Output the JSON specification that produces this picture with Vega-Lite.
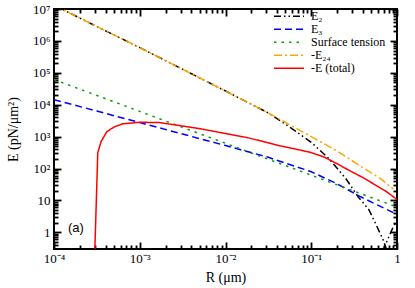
{
  "$schema": "https://vega.github.io/schema/vega-lite/v6.json",
  "width": 343,
  "height": 240,
  "autosize": {"type": "none"},
  "padding": {"left": 54, "top": 9, "right": 18, "bottom": 39},
  "background": "white",
  "config": {
    "view": {"stroke": "black", "strokeWidth": 2},
    "axis": {
      "grid": false,
      "domain": false,
      "tickColor": "black",
      "tickWidth": 1.8,
      "labelFont": "Liberation Serif",
      "labelFontSize": 13,
      "labelColor": "black",
      "titleFont": "Liberation Serif",
      "titleFontSize": 14,
      "titleFontWeight": "normal",
      "titleColor": "black",
      "labelOverlap": false,
      "labelFlush": false
    }
  },
  "data": {
    "values": [
      {"series": "E₂", "part": 1, "R": 0.0001, "E": 13200000},
      {"series": "E₂", "part": 1, "R": 0.000316, "E": 2820000},
      {"series": "E₂", "part": 1, "R": 0.001, "E": 617000},
      {"series": "E₂", "part": 1, "R": 0.00316, "E": 129000},
      {"series": "E₂", "part": 1, "R": 0.01, "E": 26900},
      {"series": "E₂", "part": 1, "R": 0.0316, "E": 5500},
      {"series": "E₂", "part": 1, "R": 0.0562, "E": 1995},
      {"series": "E₂", "part": 1, "R": 0.1, "E": 661},
      {"series": "E₂", "part": 1, "R": 0.158, "E": 214},
      {"series": "E₂", "part": 1, "R": 0.251, "E": 50},
      {"series": "E₂", "part": 1, "R": 0.355, "E": 12.6},
      {"series": "E₂", "part": 1, "R": 0.468, "E": 5.25},
      {"series": "E₂", "part": 1, "R": 0.575, "E": 1.66},
      {"series": "E₂", "part": 1, "R": 0.692, "E": 0.562},
      {"series": "E₂", "part": 1, "R": 0.794, "E": 0.2},
      {"series": "E₂", "part": 2, "R": 0.676, "E": 0.25},
      {"series": "E₂", "part": 2, "R": 0.9, "E": 1.45},
      {"series": "E₂", "part": 2, "R": 1, "E": 2.3},
      {"series": "E₃", "part": 1, "R": 0.0001, "E": 14450},
      {"series": "E₃", "part": 1, "R": 0.000316, "E": 6310},
      {"series": "E₃", "part": 1, "R": 0.001, "E": 2754},
      {"series": "E₃", "part": 1, "R": 0.00316, "E": 1202},
      {"series": "E₃", "part": 1, "R": 0.01, "E": 525},
      {"series": "E₃", "part": 1, "R": 0.0316, "E": 224},
      {"series": "E₃", "part": 1, "R": 0.1, "E": 79.4},
      {"series": "E₃", "part": 1, "R": 0.2, "E": 33.1},
      {"series": "E₃", "part": 1, "R": 0.355, "E": 14.1},
      {"series": "E₃", "part": 1, "R": 0.631, "E": 6.61},
      {"series": "E₃", "part": 1, "R": 1, "E": 3.63},
      {"series": "Surface tension", "part": 1, "R": 0.0001, "E": 61660},
      {"series": "Surface tension", "part": 1, "R": 0.000316, "E": 19500},
      {"series": "Surface tension", "part": 1, "R": 0.001, "E": 6166},
      {"series": "Surface tension", "part": 1, "R": 0.00316, "E": 1950},
      {"series": "Surface tension", "part": 1, "R": 0.01, "E": 617},
      {"series": "Surface tension", "part": 1, "R": 0.0316, "E": 195},
      {"series": "Surface tension", "part": 1, "R": 0.1, "E": 61.7},
      {"series": "Surface tension", "part": 1, "R": 0.316, "E": 19.5},
      {"series": "Surface tension", "part": 1, "R": 1, "E": 6.17},
      {"series": "-E₂₄", "part": 1, "R": 0.0001, "E": 13200000},
      {"series": "-E₂₄", "part": 1, "R": 0.000316, "E": 2820000},
      {"series": "-E₂₄", "part": 1, "R": 0.001, "E": 617000},
      {"series": "-E₂₄", "part": 1, "R": 0.00316, "E": 129000},
      {"series": "-E₂₄", "part": 1, "R": 0.01, "E": 26900},
      {"series": "-E₂₄", "part": 1, "R": 0.0316, "E": 5500},
      {"series": "-E₂₄", "part": 1, "R": 0.1, "E": 1000},
      {"series": "-E₂₄", "part": 1, "R": 0.2, "E": 355},
      {"series": "-E₂₄", "part": 1, "R": 0.398, "E": 107},
      {"series": "-E₂₄", "part": 1, "R": 0.631, "E": 50},
      {"series": "-E₂₄", "part": 1, "R": 0.912, "E": 22.4},
      {"series": "-E (total)", "part": 1, "R": 0.000299, "E": 0.25},
      {"series": "-E (total)", "part": 1, "R": 0.000324, "E": 316},
      {"series": "-E (total)", "part": 1, "R": 0.000355, "E": 708},
      {"series": "-E (total)", "part": 1, "R": 0.000412, "E": 1413},
      {"series": "-E (total)", "part": 1, "R": 0.000501, "E": 1995},
      {"series": "-E (total)", "part": 1, "R": 0.000631, "E": 2512},
      {"series": "-E (total)", "part": 1, "R": 0.001, "E": 2818},
      {"series": "-E (total)", "part": 1, "R": 0.0017, "E": 2754},
      {"series": "-E (total)", "part": 1, "R": 0.00501, "E": 1778},
      {"series": "-E (total)", "part": 1, "R": 0.0186, "E": 912},
      {"series": "-E (total)", "part": 1, "R": 0.0417, "E": 525},
      {"series": "-E (total)", "part": 1, "R": 0.0631, "E": 417},
      {"series": "-E (total)", "part": 1, "R": 0.1, "E": 316},
      {"series": "-E (total)", "part": 1, "R": 0.141, "E": 229},
      {"series": "-E (total)", "part": 1, "R": 0.2, "E": 141},
      {"series": "-E (total)", "part": 1, "R": 0.282, "E": 85},
      {"series": "-E (total)", "part": 1, "R": 0.398, "E": 52.5},
      {"series": "-E (total)", "part": 1, "R": 0.562, "E": 30.2},
      {"series": "-E (total)", "part": 1, "R": 0.759, "E": 18.6},
      {"series": "-E (total)", "part": 1, "R": 1, "E": 10.7}
    ]
  },
  "layer": [
    {
      "mark": {"type": "line", "clip": true},
      "encoding": {
        "x": {
          "field": "R", "type": "quantitative",
          "scale": {"type": "log", "domain": [0.0001, 1], "nice": false},
          "axis": {
            "orient": "bottom",
            "title": "R (μm)",
            "titlePadding": 2,
            "values": [0.0001,0.0002,0.0003,0.0004,0.0005,0.0006,0.0007,0.0008,0.0009,0.001,0.002,0.003,0.004,0.005,0.006,0.007,0.008,0.009,0.01,0.02,0.03,0.04,0.05,0.06,0.07,0.08,0.09,0.1,0.2,0.3,0.4,0.5,0.6,0.7,0.8,0.9,1],
            "labelExpr": "(abs(log(datum.value)/LN10 - round(log(datum.value)/LN10)) < 0.001) ? ['10⁻⁴','10⁻³','10⁻²','10⁻¹','1'][round(log(datum.value)/LN10)+4] : ''",
            "tickSize": {"condition": {"test": "abs(log(datum.value)/LN10 - round(log(datum.value)/LN10)) < 0.001", "value": -7}, "value": -4},
            "labelPadding": 10
          }
        },
        "y": {
          "field": "E", "type": "quantitative",
          "scale": {"type": "log", "domain": [0.3, 10000000], "nice": false},
          "axis": {
            "orient": "left",
            "title": "E (pN/μm²)",
            "titlePadding": 12,
            "values": [0.4,0.5,0.6,0.7,0.8,0.9,1,2,3,4,5,6,7,8,9,10,20,30,40,50,60,70,80,90,100,200,300,400,500,600,700,800,900,1000,2000,3000,4000,5000,6000,7000,8000,9000,10000,20000,30000,40000,50000,60000,70000,80000,90000,100000,200000,300000,400000,500000,600000,700000,800000,900000,1000000,2000000,3000000,4000000,5000000,6000000,7000000,8000000,9000000,10000000],
            "labelExpr": "(abs(log(datum.value)/LN10 - round(log(datum.value)/LN10)) < 0.001) ? ['1','10','10²','10³','10⁴','10⁵','10⁶','10⁷'][round(log(datum.value)/LN10)] : ''",
            "tickSize": {"condition": {"test": "abs(log(datum.value)/LN10 - round(log(datum.value)/LN10)) < 0.001", "value": -7}, "value": -4},
            "labelPadding": 11
          }
        },
        "color": {
          "field": "series", "type": "nominal",
          "scale": {"domain": ["E₂", "E₃", "Surface tension", "-E₂₄", "-E (total)"], "range": ["#000000", "#0000ff", "#109a10", "#ffa500", "#ff0000"]},
          "legend": {
            "title": null,
            "orient": "none",
            "legendX": 219,
            "legendY": 1,
            "padding": 0,
            "symbolType": "stroke",
            "symbolSize": 900,
            "clipHeight": 12.5,
            "rowPadding": 0,
            "labelOffset": 6,
            "labelFont": "Liberation Serif",
            "labelFontSize": 12,
            "labelColor": "black"
          }
        },
        "strokeDash": {
          "field": "series", "type": "nominal",
          "scale": {"domain": ["E₂", "E₃", "Surface tension", "-E₂₄", "-E (total)"], "range": [[7, 3, 1.5, 3, 1.5, 3], [7, 4], [2.5, 5], [8, 3, 2, 3], [1, 0]]},
          "legend": {
            "title": null,
            "orient": "none",
            "legendX": 219,
            "legendY": 1,
            "padding": 0,
            "symbolType": "stroke",
            "symbolSize": 900,
            "clipHeight": 12.5,
            "rowPadding": 0,
            "labelOffset": 6,
            "labelFont": "Liberation Serif",
            "labelFontSize": 12,
            "labelColor": "black"
          }
        },
        "strokeWidth": {
          "field": "series", "type": "ordinal",
          "scale": {"domain": ["E₂", "E₃", "Surface tension", "-E₂₄", "-E (total)"], "range": [1.5, 1.5, 2.5, 1.5, 3]},
          "legend": {
            "title": null,
            "orient": "none",
            "legendX": 219,
            "legendY": 1,
            "padding": 0,
            "symbolType": "stroke",
            "symbolSize": 900,
            "clipHeight": 12.5,
            "rowPadding": 0,
            "labelOffset": 6,
            "labelFont": "Liberation Serif",
            "labelFontSize": 12,
            "labelColor": "black"
          }
        },
        "detail": {"field": "part", "type": "nominal"}
      }
    },
    {
      "mark": {"type": "point", "opacity": 0},
      "encoding": {
        "x": {
          "field": "R", "type": "quantitative",
          "scale": {"type": "log", "domain": [0.0001, 1], "nice": false},
          "axis": {
            "orient": "top",
            "title": null,
            "labels": false,
            "values": [0.0001,0.0002,0.0003,0.0004,0.0005,0.0006,0.0007,0.0008,0.0009,0.001,0.002,0.003,0.004,0.005,0.006,0.007,0.008,0.009,0.01,0.02,0.03,0.04,0.05,0.06,0.07,0.08,0.09,0.1,0.2,0.3,0.4,0.5,0.6,0.7,0.8,0.9,1],
            "tickSize": {"condition": {"test": "abs(log(datum.value)/LN10 - round(log(datum.value)/LN10)) < 0.001", "value": -7}, "value": -4}
          }
        },
        "y": {
          "field": "E", "type": "quantitative",
          "scale": {"type": "log", "domain": [0.3, 10000000], "nice": false},
          "axis": {
            "orient": "right",
            "title": null,
            "labels": false,
            "values": [0.4,0.5,0.6,0.7,0.8,0.9,1,2,3,4,5,6,7,8,9,10,20,30,40,50,60,70,80,90,100,200,300,400,500,600,700,800,900,1000,2000,3000,4000,5000,6000,7000,8000,9000,10000,20000,30000,40000,50000,60000,70000,80000,90000,100000,200000,300000,400000,500000,600000,700000,800000,900000,1000000,2000000,3000000,4000000,5000000,6000000,7000000,8000000,9000000,10000000],
            "tickSize": {"condition": {"test": "abs(log(datum.value)/LN10 - round(log(datum.value)/LN10)) < 0.001", "value": -7}, "value": -4}
          }
        }
      }
    },
    {
      "data": {"values": [{"label": "(a)"}]},
      "mark": {"type": "text", "font": "Liberation Sans", "fontSize": 13, "align": "center", "baseline": "middle", "color": "black"},
      "encoding": {
        "x": {"datum": 0.00018, "type": "quantitative", "scale": {"type": "log", "domain": [0.0001, 1], "nice": false}, "axis": null},
        "y": {"datum": 1.33, "type": "quantitative", "scale": {"type": "log", "domain": [0.3, 10000000], "nice": false}, "axis": null},
        "text": {"field": "label"}
      }
    }
  ],
  "resolve": {"axis": {"x": "independent", "y": "independent"}}
}
